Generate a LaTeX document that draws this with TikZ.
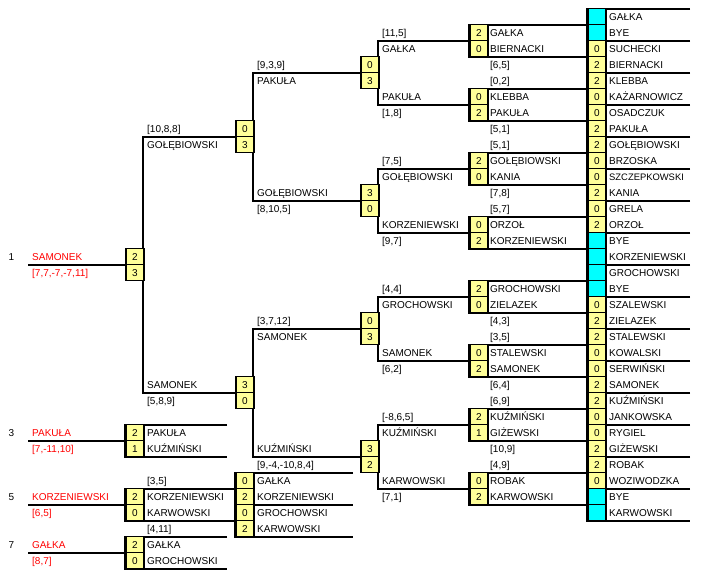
\documentclass[tikz,border=0pt]{standalone}
\usepackage{fontspec}
\setmainfont{Liberation Sans}
\definecolor{scoreyellow}{HTML}{FFFF99}
\definecolor{byecyan}{HTML}{00FFFF}
\newcommand{\slimname}[1]{{\fontsize{9.4}{10}\selectfont #1}}

\begin{document}
\begin{tikzpicture}[
    x=1pt, y=-1pt,
    every node/.style={inner sep=0pt, text height=7.2pt, text depth=0pt,
        font=\fontsize{10}{12}\selectfont},
    score/.style={rectangle, draw=black, line width=1.6pt, fill=scoreyellow,
        minimum width=18pt, minimum height=16pt, anchor=west, text=black},
    bye/.style={score, fill=byecyan},
    player/.style={anchor=west, text=black},
    champ/.style={anchor=west, text=red},
    place/.style={anchor=center, text=black},
    rail/.style={line width=2pt, line join=miter}
]
\useasboundingbox (0,0) rectangle (709,579);

% bracket lines
\foreach \m in {0,...,15}
    \draw[rail] (690,{8.5+32*\m}) -- (587,{8.5+32*\m}) -- (587,{40.5+32*\m}) -- (690,{40.5+32*\m});
\foreach \j in {0,...,7}
    \draw[rail] (587,{24.5+64*\j}) -- (469,{24.5+64*\j}) -- (469,{56.5+64*\j}) -- (587,{56.5+64*\j});
\foreach \q in {0,...,3}
    \draw[rail] (469,{40.5+128*\q}) -- (378,{40.5+128*\q}) -- (378,{104.5+128*\q}) -- (469,{104.5+128*\q});
\foreach \h in {0,1}
    \draw[rail] (360,{72.5+256*\h}) -- (253,{72.5+256*\h}) -- (253,{200.5+256*\h}) -- (360,{200.5+256*\h});
\draw[rail] (235,136.5) -- (143,136.5) -- (143,392.5) -- (235,392.5);
% places 3, 5, 7
\draw[rail] (227,424.5) -- (125,424.5) -- (125,456.5) -- (227,456.5);
\draw[rail] (353,472.5) -- (235,472.5) -- (235,536.5) -- (353,536.5);
\draw[rail] (235,504.5) -- (353,504.5);
\draw[rail] (235,488.5) -- (125,488.5) -- (125,520.5) -- (235,520.5);
\draw[rail] (227,536.5) -- (125,536.5) -- (125,568.5) -- (227,568.5);
\foreach \ly in {264.5,440.5,504.5,552.5}
    \draw[rail] (28,\ly) -- (125,\ly);

% first round
\foreach \n/\s/\f [count=\i from 0] in {GAŁKA//bye, BYE//bye, SUCHECKI/0/score,
    BIERNACKI/2/score, KLEBBA/2/score, KAŻARNOWICZ/0/score, OSADCZUK/0/score,
    PAKUŁA/2/score, GOŁĘBIOWSKI/2/score, BRZOSKA/0/score,
    \slimname{SZCZEPKOWSKI}/0/score, KANIA/2/score, GRELA/0/score, ORZOŁ/2/score,
    BYE//bye, KORZENIEWSKI//bye, GROCHOWSKI//bye, BYE//bye, SZALEWSKI/0/score,
    ZIELAZEK/2/score, STALEWSKI/2/score, KOWALSKI/0/score, SERWIŃSKI/0/score,
    SAMONEK/2/score, KUŹMIŃSKI/2/score, JANKOWSKA/0/score, RYGIEL/0/score,
    GIŻEWSKI/2/score, ROBAK/2/score, WOZIWODZKA/0/score, BYE//bye, KARWOWSKI//bye}
{
    \node[\f] (rb\i) at (587,{16.5+16*\i}) {\s};
    \node[player] (rn\i) at (609,{16.5+16*\i}) {\n};
}
\foreach \m/\d in {1/{[6,5]}, 2/{[0,2]}, 3/{[5,1]}, 4/{[5,1]}, 5/{[7,8]}, 6/{[5,7]},
    9/{[4,3]}, 10/{[3,5]}, 11/{[6,4]}, 12/{[6,9]}, 13/{[10,9]}, 14/{[4,9]}}
    \node[player] (rd\m) at (490,{16.5+32*\m+16*mod(\m,2)}) {\d};

% second round
\foreach \a/\sa/\b/\sb [count=\j from 0] in {GAŁKA/2/BIERNACKI/0, KLEBBA/0/PAKUŁA/2,
    GOŁĘBIOWSKI/2/KANIA/0, ORZOŁ/0/KORZENIEWSKI/2, GROCHOWSKI/2/ZIELAZEK/0,
    STALEWSKI/0/SAMONEK/2, KUŹMIŃSKI/2/GIŻEWSKI/1, ROBAK/0/KARWOWSKI/2}
{
    \node[score] (sbt\j) at (469,{32.5+64*\j}) {\sa};
    \node[score] (sbb\j) at (469,{48.5+64*\j}) {\sb};
    \node[player] (snt\j) at (490,{32.5+64*\j}) {\a};
    \node[player] (snb\j) at (490,{48.5+64*\j}) {\b};
}

% quarterfinals
\foreach \n/\d [count=\j from 0] in {GAŁKA/{[11,5]}, PAKUŁA/{[1,8]},
    GOŁĘBIOWSKI/{[7,5]}, KORZENIEWSKI/{[9,7]}, GROCHOWSKI/{[4,4]},
    SAMONEK/{[6,2]}, KUŹMIŃSKI/{[-8,6,5]}, KARWOWSKI/{[7,1]}}
{
    \node[player] (qn\j) at (382,{48.5+64*\j-16*mod(\j,2)}) {\n};
    \node[player] (qd\j) at (382,{32.5+64*\j+16*mod(\j,2)}) {\d};
}
\foreach \sa/\sb [count=\q from 0] in {0/3, 3/0, 0/3, 3/2}
{
    \node[score] (qbt\q) at (360,{64.5+128*\q}) {\sa};
    \node[score] (qbb\q) at (360,{80.5+128*\q}) {\sb};
}

% semifinals
\foreach \n/\d [count=\q from 0] in {PAKUŁA/{[9,3,9]}, GOŁĘBIOWSKI/{[8,10,5]},
    SAMONEK/{[3,7,12]}, KUŹMIŃSKI/{[9,-4,-10,8,4]}}
{
    \node[player] (hn\q) at (257,{80.5+128*\q-16*mod(\q,2)}) {\n};
    \node[player] (hd\q) at (257,{64.5+128*\q+16*mod(\q,2)}) {\d};
}
\foreach \sa/\sb [count=\h from 0] in {0/3, 3/0}
{
    \node[score] (hbt\h) at (235,{128.5+256*\h}) {\sa};
    \node[score] (hbb\h) at (235,{144.5+256*\h}) {\sb};
}

% final
\node[player] (fn0) at (147,144.5) {GOŁĘBIOWSKI};
\node[player] (fd0) at (147,128.5) {[10,8,8]};
\node[player] (fn1) at (147,384.5) {SAMONEK};
\node[player] (fd1) at (147,400.5) {[5,8,9]};
\node[score] (fbt) at (125,256.5) {2};
\node[score] (fbb) at (125,272.5) {3};

% matches for places
\foreach \x/\ly/\s [count=\k] in {125/432.5/2, 125/448.5/1, 235/480.5/0, 235/496.5/2,
    235/512.5/0, 235/528.5/2, 125/496.5/2, 125/512.5/0, 125/544.5/2, 125/560.5/0}
    \node[score] (pb\k) at (\x,\ly) {\s};
\foreach \x/\ly/\n [count=\k] in {147/432.5/PAKUŁA, 147/448.5/KUŹMIŃSKI,
    257/480.5/GAŁKA, 257/496.5/KORZENIEWSKI, 257/512.5/GROCHOWSKI,
    257/528.5/KARWOWSKI, 147/480.5/{[3,5]}, 147/496.5/KORZENIEWSKI,
    147/512.5/KARWOWSKI, 147/528.5/{[4,11]}, 147/544.5/GAŁKA, 147/560.5/GROCHOWSKI}
    \node[player] (pn\k) at (\x,\ly) {\n};

% ranking
\foreach \r/\n/\d/\ly in {1/SAMONEK/{[7,7,-7,-7,11]}/264.5, 3/PAKUŁA/{[7,-11,10]}/440.5,
    5/KORZENIEWSKI/{[6,5]}/504.5, 7/GAŁKA/{[8,7]}/552.5}
{
    \node[place] (rank\r) at (11.5,{\ly-8}) {\r};
    \node[champ] (cn\r) at (32,{\ly-8}) {\n};
    \node[champ] (cd\r) at (32,{\ly+8}) {\d};
}
\end{tikzpicture}
\end{document}
